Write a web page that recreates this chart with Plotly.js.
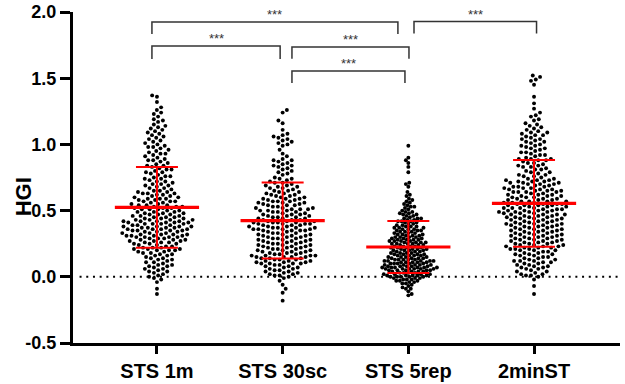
<!DOCTYPE html>
<html>
<head>
<meta charset="utf-8">
<script src="https://cdn.plot.ly/plotly-3.0.1.min.js"></script>
<style>
  html, body { margin: 0; padding: 0; background: #fff; }
  #chart { width: 625px; height: 384px; }
</style>
</head>
<body>
<div id="chart"></div>
<script>
// Test categories
const groups = ['STS 1m', 'STS 30sc', 'STS 5rep', '2minST'];

// Individual HGI values per test
const hgiSTS1m = [
  1.36, 1.37, 1.32, 1.26, 1.28, 1.21, 1.23, 1.24, 1.15, 1.17, 1.18, 1.19,
  1.10, 1.11, 1.12, 1.13, 1.14, 1.05, 1.06, 1.07, 1.08, 1.09,
  1.00, 1.01, 1.02, 1.03, 1.04, 0.95, 0.96, 0.97, 0.98, 0.98, 0.99,
  0.90, 0.91, 0.92, 0.93, 0.93, 0.94, 0.85, 0.86, 0.87, 0.88, 0.88, 0.89,
  0.80, 0.81, 0.81, 0.82, 0.83, 0.84, 0.84,
  0.75, 0.76, 0.76, 0.77, 0.78, 0.79, 0.79,
  0.70, 0.70, 0.71, 0.72, 0.72, 0.73, 0.74, 0.74,
  0.65, 0.65, 0.66, 0.67, 0.67, 0.68, 0.69, 0.69,
  0.60, 0.60, 0.61, 0.61, 0.62, 0.62, 0.63, 0.63, 0.63, 0.64, 0.64,
  0.55, 0.55, 0.56, 0.56, 0.57, 0.57, 0.57, 0.58, 0.58, 0.59, 0.59, 0.59,
  0.50, 0.50, 0.51, 0.51, 0.51, 0.52, 0.52, 0.52, 0.53, 0.53, 0.53, 0.54, 0.54, 0.54,
  0.45, 0.45, 0.45, 0.46, 0.46, 0.46, 0.47, 0.47, 0.47, 0.48, 0.48, 0.48, 0.49, 0.49, 0.49,
  0.40, 0.40, 0.40, 0.40, 0.41, 0.41, 0.41, 0.41, 0.42, 0.42, 0.42, 0.42,
  0.43, 0.43, 0.43, 0.43, 0.44, 0.44, 0.44,
  0.35, 0.35, 0.35, 0.35, 0.36, 0.36, 0.36, 0.36, 0.37, 0.37, 0.37, 0.37,
  0.38, 0.38, 0.38, 0.38, 0.39, 0.39, 0.39,
  0.30, 0.30, 0.30, 0.30, 0.31, 0.31, 0.31, 0.31, 0.32, 0.32, 0.32, 0.32,
  0.33, 0.33, 0.33, 0.34, 0.34, 0.34,
  0.25, 0.25, 0.25, 0.26, 0.26, 0.26, 0.27, 0.27, 0.27, 0.28, 0.28, 0.28, 0.29, 0.29, 0.29,
  0.20, 0.20, 0.20, 0.21, 0.21, 0.21, 0.22, 0.22, 0.22, 0.23, 0.23, 0.24, 0.24,
  0.15, 0.16, 0.16, 0.17, 0.17, 0.18, 0.18, 0.19, 0.19,
  0.10, 0.11, 0.11, 0.12, 0.13, 0.13, 0.14, 0.14,
  0.05, 0.06, 0.06, 0.07, 0.08, 0.08, 0.09, 0.09,
  0.00, 0.01, 0.02, 0.03, 0.04, 0.04,
  -0.01, -0.02, -0.04, -0.09, -0.13
];

const hgiSTS30sc = [
  1.26, 1.24, 1.16, 1.18, 1.11, 1.05, 1.06, 1.07, 1.08,
  1.00, 1.01, 1.02, 1.03, 1.04, 0.96, 0.99, 0.91, 0.93,
  0.85, 0.86, 0.87, 0.88, 0.88, 0.89, 0.80, 0.81, 0.82, 0.83, 0.84, 0.84,
  0.75, 0.77, 0.78, 0.79,
  0.70, 0.71, 0.71, 0.72, 0.73, 0.74, 0.74,
  0.65, 0.65, 0.66, 0.67, 0.67, 0.68, 0.68, 0.69, 0.69,
  0.60, 0.60, 0.61, 0.61, 0.62, 0.62, 0.63, 0.63, 0.64, 0.64,
  0.55, 0.55, 0.56, 0.56, 0.56, 0.57, 0.57, 0.57, 0.58, 0.58, 0.59, 0.59, 0.59,
  0.50, 0.50, 0.50, 0.51, 0.51, 0.51, 0.52, 0.52, 0.52, 0.53, 0.53, 0.54, 0.54, 0.54,
  0.45, 0.45, 0.45, 0.46, 0.46, 0.46, 0.47, 0.47, 0.47, 0.48, 0.48, 0.49, 0.49, 0.49,
  0.40, 0.40, 0.40, 0.40, 0.41, 0.41, 0.41, 0.41, 0.42, 0.42, 0.42,
  0.43, 0.43, 0.43, 0.44, 0.44, 0.44,
  0.35, 0.35, 0.35, 0.35, 0.36, 0.36, 0.36, 0.36, 0.37, 0.37, 0.37, 0.37,
  0.38, 0.38, 0.38, 0.39, 0.39, 0.39,
  0.30, 0.30, 0.30, 0.31, 0.31, 0.31, 0.32, 0.32, 0.32, 0.33, 0.33, 0.33, 0.34, 0.34,
  0.25, 0.25, 0.25, 0.26, 0.26, 0.26, 0.27, 0.27, 0.27, 0.28, 0.28, 0.28, 0.29, 0.29, 0.29,
  0.20, 0.20, 0.20, 0.21, 0.21, 0.21, 0.22, 0.22, 0.22, 0.23, 0.23, 0.23, 0.24, 0.24, 0.24,
  0.15, 0.15, 0.15, 0.15, 0.16, 0.16, 0.16, 0.16, 0.17, 0.17, 0.17,
  0.18, 0.18, 0.18, 0.19, 0.19, 0.19,
  0.10, 0.10, 0.10, 0.10, 0.11, 0.11, 0.11, 0.12, 0.12, 0.12,
  0.13, 0.13, 0.13, 0.14, 0.14, 0.14,
  0.05, 0.05, 0.06, 0.06, 0.07, 0.07, 0.08, 0.08, 0.09, 0.09,
  0.00, 0.01, 0.01, 0.02, 0.02, 0.03, 0.03, 0.04, 0.04,
  -0.01, -0.03, -0.06, -0.09, -0.12, -0.18
];

const hgiSTS5rep = [
  0.99, 0.90, 0.86, 0.88, 0.83, 0.79, 0.70, 0.71, 0.68,
  0.61, 0.62, 0.64, 0.55, 0.56, 0.57, 0.58, 0.59,
  0.50, 0.51, 0.52, 0.53, 0.53, 0.54,
  0.45, 0.46, 0.46, 0.47, 0.47, 0.48, 0.48, 0.49, 0.49,
  0.40, 0.40, 0.41, 0.41, 0.42, 0.42, 0.42, 0.43, 0.43, 0.44, 0.44, 0.44,
  0.35, 0.35, 0.35, 0.36, 0.36, 0.36, 0.37, 0.37, 0.37, 0.38, 0.38, 0.38, 0.39, 0.39,
  0.30, 0.30, 0.30, 0.30, 0.31, 0.31, 0.31, 0.32, 0.32, 0.32, 0.33, 0.33, 0.33, 0.34, 0.34, 0.34,
  0.25, 0.25, 0.25, 0.25, 0.26, 0.26, 0.26, 0.26, 0.27, 0.27, 0.27, 0.27,
  0.28, 0.28, 0.28, 0.28, 0.29, 0.29, 0.29,
  0.20, 0.20, 0.20, 0.20, 0.21, 0.21, 0.21, 0.21, 0.22, 0.22, 0.22, 0.22,
  0.23, 0.23, 0.23, 0.23, 0.24, 0.24, 0.24,
  0.15, 0.15, 0.15, 0.15, 0.16, 0.16, 0.16, 0.16, 0.17, 0.17, 0.17, 0.17,
  0.18, 0.18, 0.18, 0.18, 0.19, 0.19, 0.19,
  0.10, 0.10, 0.10, 0.10, 0.10, 0.11, 0.11, 0.11, 0.11, 0.11, 0.12, 0.12, 0.12, 0.12, 0.12,
  0.13, 0.13, 0.13, 0.13, 0.13, 0.14, 0.14, 0.14, 0.14,
  0.05, 0.05, 0.05, 0.05, 0.05, 0.06, 0.06, 0.06, 0.06, 0.06, 0.06,
  0.07, 0.07, 0.07, 0.07, 0.07, 0.07, 0.08, 0.08, 0.08, 0.08, 0.08, 0.09, 0.09, 0.09, 0.09, 0.09,
  0.00, 0.00, 0.00, 0.00, 0.00, 0.01, 0.01, 0.01, 0.01, 0.01, 0.02, 0.02, 0.02, 0.02,
  0.03, 0.03, 0.03, 0.03, 0.04, 0.04, 0.04, 0.04,
  -0.01, -0.01, -0.01, -0.02, -0.02, -0.02, -0.03, -0.03, -0.03, -0.04, -0.04, -0.05, -0.05,
  -0.06, -0.07, -0.08, -0.09, -0.09, -0.11, -0.13, -0.14
];

const hgi2minST = [
  1.51, 1.52, 1.45, 1.48, 1.49, 1.36, 1.31, 1.27, 1.21, 1.22, 1.24,
  1.15, 1.16, 1.18, 1.19, 1.10, 1.11, 1.12, 1.13, 1.14,
  1.05, 1.06, 1.07, 1.07, 1.08, 1.09, 1.09,
  1.00, 1.01, 1.02, 1.02, 1.03, 1.04, 1.04,
  0.95, 0.96, 0.97, 0.97, 0.98, 0.99, 0.99,
  0.90, 0.91, 0.92, 0.92, 0.93, 0.94, 0.94,
  0.85, 0.86, 0.86, 0.87, 0.88, 0.88, 0.89, 0.89, 0.89,
  0.80, 0.81, 0.81, 0.82, 0.83, 0.83, 0.84, 0.84,
  0.75, 0.76, 0.76, 0.77, 0.77, 0.78, 0.79, 0.79,
  0.70, 0.70, 0.70, 0.71, 0.71, 0.71, 0.72, 0.72, 0.72, 0.73, 0.73, 0.73, 0.74, 0.74,
  0.65, 0.65, 0.65, 0.66, 0.66, 0.66, 0.67, 0.67, 0.67, 0.68, 0.68, 0.68, 0.69, 0.69,
  0.60, 0.60, 0.60, 0.61, 0.61, 0.61, 0.62, 0.62, 0.62, 0.63, 0.63, 0.64, 0.64, 0.64, 0.64,
  0.55, 0.55, 0.55, 0.55, 0.56, 0.56, 0.56, 0.57, 0.57, 0.57, 0.57, 0.58, 0.58, 0.58, 0.59, 0.59, 0.59,
  0.50, 0.50, 0.50, 0.50, 0.51, 0.51, 0.51, 0.52, 0.52, 0.52, 0.52, 0.53, 0.53, 0.53, 0.54, 0.54, 0.54, 0.54,
  0.45, 0.45, 0.45, 0.45, 0.46, 0.46, 0.46, 0.47, 0.47, 0.47, 0.47, 0.48, 0.48, 0.48, 0.49, 0.49, 0.49, 0.49,
  0.40, 0.40, 0.40, 0.40, 0.41, 0.41, 0.41, 0.42, 0.42, 0.42, 0.43, 0.43, 0.43, 0.44, 0.44, 0.44,
  0.35, 0.35, 0.35, 0.36, 0.36, 0.36, 0.37, 0.37, 0.37, 0.38, 0.38, 0.38, 0.39, 0.39, 0.39,
  0.30, 0.30, 0.30, 0.31, 0.31, 0.31, 0.32, 0.32, 0.32, 0.33, 0.33, 0.33, 0.34, 0.34, 0.34,
  0.25, 0.25, 0.25, 0.26, 0.26, 0.26, 0.27, 0.27, 0.27, 0.28, 0.28, 0.28, 0.29, 0.29, 0.29,
  0.20, 0.20, 0.20, 0.21, 0.21, 0.21, 0.22, 0.22, 0.22, 0.23, 0.23, 0.23, 0.24, 0.24, 0.24,
  0.15, 0.15, 0.16, 0.16, 0.17, 0.17, 0.17, 0.18, 0.18, 0.19, 0.19,
  0.10, 0.10, 0.11, 0.11, 0.12, 0.12, 0.12, 0.13, 0.13, 0.14, 0.14,
  0.05, 0.06, 0.06, 0.07, 0.07, 0.08, 0.08, 0.09, 0.09,
  0.00, 0.01, 0.01, 0.02, 0.02, 0.03, 0.04, 0.04,
  -0.02, -0.07, -0.13
];

// Mean and standard deviation per test
const groupMeans = [0.525, 0.425, 0.225, 0.555];
const groupSDs   = [0.305, 0.287, 0.197, 0.328];

// Pairwise comparisons: [first test, second test, significance label]
const comparisons = [
  [0, 2, '***'],
  [2, 3, '***'],
  [0, 1, '***'],
  [1, 2, '***'],
  [1, 2, '***']
];

// ---- drawing geometry ----
const W = 625, H = 384;
const margin = { l: 73, r: 5, t: 12, b: 41 };
const xRange = [-0.668, 3.684];
const yRange = [-0.5, 2.0];
const pxPerX = (W - margin.l - margin.r) / (xRange[1] - xRange[0]);
const pxPerY = (H - margin.t - margin.b) / (yRange[1] - yRange[0]);

// point spacing (px) used by the swarm layout of each column
const swarmSpacing = [5.0, 5.0, 3.6, 5.0];

// bracket placement: height (y), end insets (in category units), drop length
const bracketGeom = [
  { y: 1.924, inL: -0.04, inR: -0.083, drop: 0.09 },
  { y: 1.928, inL: 0.045, inR: 0.02, drop: 0.09 },
  { y: 1.743, inL: -0.04, inR: -0.02, drop: 0.098 },
  { y: 1.736, inL: 0.074, inR: 0.005, drop: 0.09 },
  { y: 1.554, inL: 0.074, inR: -0.027, drop: 0.09 }
];

// compact beeswarm: nearest non-overlapping horizontal offset (px)
function swarmOffsets(vals, diameter) {
  const order = vals.map((v, i) => i).sort((a, b) => vals[a] - vals[b]);
  const placed = [];
  const out = new Array(vals.length);
  const D2 = diameter * diameter;
  let flip = 1;
  for (const i of order) {
    const y = vals[i] * pxPerY;
    const near = placed.filter(p => Math.abs(p.y - y) < diameter);
    const cands = [0];
    near.forEach(p => {
      const dx = Math.sqrt(D2 - (p.y - y) * (p.y - y));
      cands.push(p.x + dx, p.x - dx);
    });
    cands.sort((a, b) => {
      const d = Math.abs(a) - Math.abs(b);
      if (Math.abs(d) > 1e-6) return d;
      return flip * (b - a);
    });
    let best = 0;
    for (const c of cands) {
      if (near.every(p => (p.x - c) * (p.x - c) + (p.y - y) * (p.y - y) >= D2 - 1e-6)) { best = c; break; }
    }
    if (best !== 0) flip = -flip;
    placed.push({ x: best, y: y });
    out[i] = best;
  }
  return out;
}

const series = [hgiSTS1m, hgiSTS30sc, hgiSTS5rep, hgi2minST];
const traces = [];

// individual points
series.forEach((vals, g) => {
  const offs = swarmOffsets(vals, swarmSpacing[g]);
  traces.push({
    type: 'scatter', mode: 'markers',
    x: offs.map(o => g + o / pxPerX),
    y: vals,
    marker: { size: 3.9, color: '#000', line: { width: 0 } },
    hoverinfo: 'y', cliponaxis: false
  });
});

// mean lines
const meanHalf = 0.335, capHalf = 0.167;
const mx = [], my = [];
groupMeans.forEach((m, g) => { mx.push(g - meanHalf, g + meanHalf, null); my.push(m, m, null); });
traces.push({ type: 'scatter', mode: 'lines', x: mx, y: my,
  line: { color: '#ff0000', width: 3.2 }, hoverinfo: 'skip' });

// SD whiskers with caps
const sx = [], sy = [];
groupMeans.forEach((m, g) => {
  const lo = m - groupSDs[g], hi = m + groupSDs[g];
  sx.push(g, g, null, g - capHalf, g + capHalf, null, g - capHalf, g + capHalf, null);
  sy.push(lo, hi, null, hi, hi, null, lo, lo, null);
});
traces.push({ type: 'scatter', mode: 'lines', x: sx, y: sy,
  line: { color: '#ff0000', width: 2 }, hoverinfo: 'skip' });

// zero reference line and significance brackets
const shapes = [{
  type: 'line', xref: 'paper', x0: 0.012, x1: 1, yref: 'y', y0: 0, y1: 0,
  line: { color: '#000', width: 2, dash: '2px,4.7px' }, layer: 'below'
}];
const annotations = [];
comparisons.forEach((c, k) => {
  const gm = bracketGeom[k];
  const x0 = c[0] + gm.inL, x1 = c[1] + gm.inR;
  shapes.push({
    type: 'path', xref: 'x', yref: 'y',
    path: `M ${x0} ${gm.y - gm.drop} L ${x0} ${gm.y} L ${x1} ${gm.y} L ${x1} ${gm.y - gm.drop}`,
    line: { color: '#333', width: 1.5 }
  });
  annotations.push({
    x: (x0 + x1) / 2, y: gm.y, xref: 'x', yref: 'y',
    text: c[2], showarrow: false, yanchor: 'bottom', yshift: -2,
    font: { size: 13, color: '#333', family: 'Liberation Sans, Arial, sans-serif' }
  });
});

// y-axis title, set beside the lower half of the axis
annotations.push({
  text: '<b>HGI</b>', textangle: -90, showarrow: false,
  xref: 'paper', x: 0, xanchor: 'center', xshift: -50,
  yref: 'y', y: 0.6, yanchor: 'middle',
  font: { size: 22, color: '#000', family: 'Liberation Sans, Arial, sans-serif' }
});

const layout = {
  width: W, height: H, margin: margin,
  paper_bgcolor: '#fff', plot_bgcolor: '#fff', showlegend: false,
  font: { family: 'Liberation Sans, Arial, sans-serif', color: '#000' },
  xaxis: {
    range: xRange, tickvals: [0, 1, 2, 3], ticktext: groups,
    showline: true, linewidth: 3, linecolor: '#000', mirror: false,
    ticks: 'outside', ticklen: 8, tickwidth: 3, tickcolor: '#000',
    showgrid: false, zeroline: false,
    tickfont: { size: 20, weight: 'bold', color: '#000' }
  },
  yaxis: {
    range: yRange, tickvals: [-0.5, 0, 0.5, 1, 1.5, 2],
    ticktext: ['-0.5', '0.0', '0.5', '1.0', '1.5', '2.0'],
    showline: true, linewidth: 3, linecolor: '#000',
    ticks: 'outside', ticklen: 10, tickwidth: 3, tickcolor: '#000',
    showgrid: false, zeroline: false,
    tickfont: { size: 18, weight: 'bold', color: '#000' }
  },
  shapes: shapes,
  annotations: annotations
};

Plotly.newPlot('chart', traces, layout, { staticPlot: true, displayModeBar: false });
</script>
</body>
</html>
